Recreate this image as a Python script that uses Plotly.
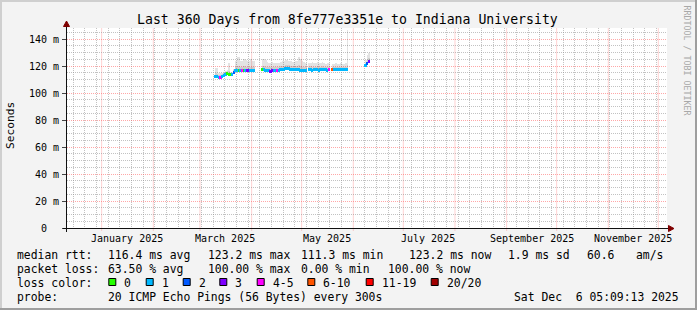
import plotly.graph_objects as go
import pandas as pd

# ---------------- data ----------------
START = "2024-12-11 05:09:13"
END = "2025-12-06 05:09:13"
days = pd.date_range("2025-03-10", "2025-06-10", freq="D")

N = None
# median RTT (ms), one value per day
median_rtt = (
    [112.5, 112, 111.5, 111.5, 112, 113, 114, 114.5, 114, 113.5, 113.5, 115.5,
     117, 117, 117, 117, 117, 117, 116.5, 116.5, 117, 117, 117, 117]
    + [N] * 4
    + [117.5, 117.5, 117, 117, 116.5, 116, 116.5, 117, 117, 117, 117, 117.5, 117.5,
       117.5, 118, 118.5, 118, 117.5, 117.5, 117.5, 117.5, 117.5, 117.5, 117, 117, 117, 116.5]
    + [N]
    + [117.5, 117.5, 117, 117.5, 117.5, 117.5, 117, 117.5, 117.5, 117.5, 117.5, 117, 117.5]
    + [N]
    + [117.5, 117.5, 117.5, 117.5, 117.5, 117.5, 117.5, 117.5, 117.5, 117.5]
    + [N] * 10
    + [120.5, 122, 123.5]
)
# loss class index (0 -> "0", 1 -> "1", ... 4 -> "4-5", 5 -> "6-10", 6 -> "11-19", 7 -> "20/20")
loss_class = (
    [1, 1, 1, 4, 1, 1, 1, 0, 0, 0, 1, 2, 1, 1, 0, 1, 4, 0, 1, 3, 3, 1, 1, 1]
    + [N] * 4
    + [0, 1, 1, 1, 1, 3, 3, 1, 1, 4, 1, 1, 1, 1, 1, 1, 1, 1, 1, 1, 1, 1, 1, 1, 1, 1, 1]
    + [N]
    + [1, 1, 1, 1, 1, 1, 1, 1, 1, 1, 1, 1, 4]
    + [N]
    + [5, 1, 1, 1, 1, 1, 1, 1, 1, 1]
    + [N] * 10
    + [1, 2, 3]
)
# upper quartile of the ping spread (ms)
rtt_p75 = (
    [114.5, 114, 113.5, 113.5, 114, 114.5, 115.5, 117, 116, 115, 115, 117,
     119.5, 120, 120, 119.5, 119.5, 120, 119.5, 119.5, 119.5, 119.5, 119.5, 119.5]
    + [N] * 4
    + [120, 120, 119.5, 119.5, 119, 119, 119, 119.5, 119.5, 119.5, 119.5, 120, 120,
       120, 120.5, 121, 120.5, 120, 120, 120, 120, 120, 120.5, 120, 119.5, 119.5, 119]
    + [N]
    + [119.5, 120, 119.5, 119.5, 119.5, 120, 119.5, 119.5, 120, 119.5, 119.5, 119.5, 119.5]
    + [N]
    + [119.5, 119.5, 119.5, 119.5, 119.5, 119.5, 119.5, 119.5, 119.5, 121]
    + [N] * 10
    + [122, 124.5, 126]
)
# max ping (ms)
rtt_max = (
    [118.5, 118.5, 115, 115, 115, 115, 116, 116, 122.5, 115.5, 115.5, 118,
     124, 127, 126.5, 124, 124, 125, 124.5, 124, 124, 125, 124, 124]
    + [N] * 4
    + [125.5, 125, 124.5, 123, 122.5, 122.5, 123, 122.5, 122.5, 122.5, 122.5, 123, 123.5,
       124, 124.5, 124.5, 124, 123.5, 123, 123, 123.5, 124, 127, 125, 123.5, 123, 122.5]
    + [N]
    + [122, 122.5, 123, 122.5, 122, 123, 122, 122.5, 123, 122, 121.5, 122.5, 122]
    + [N]
    + [121.5, 121.5, 122, 121.5, 121.5, 122, 121.5, 121.5, 122, 147]
    + [N] * 10
    + [124.5, 128.5, 130]
)

loss_labels = ["0", "1", "2", "3", "4-5", "6-10", "11-19", "20/20"]
loss_colors = ["#26ff00", "#00b8ff", "#0059ff", "#7e00ff", "#ff00ff", "#ff5500", "#ff0000", "#a10000"]

month_ticks = [d.strftime("%Y-%m-%d") for d in pd.date_range("2025-01-01", "2025-12-01", freq="MS")]
week_ticks = [d.strftime("%Y-%m-%d") for d in pd.date_range("2024-12-15", "2025-12-06", freq="W-SUN")
              if d.strftime("%Y-%m-%d") not in month_ticks]
label_ticks = ["2025-01-16", "2025-03-16", "2025-05-16", "2025-07-16", "2025-09-16", "2025-11-16"]
label_text = ["January 2025", "March 2025", "May 2025", "July 2025", "September 2025", "November 2025"]
y_ticks = [0, 20, 40, 60, 80, 100, 120, 140]
y_minor = [v for v in range(5, 150, 5) if v % 20 != 0]
y_text = ["0\u00a0\u00a0"] + [f"{v} m" for v in y_ticks[1:]]

# ---------------- figure ----------------
W, H = 697, 310
L, R, T, B = 67, 30, 28, 82
PW, PH = W - L - R, H - T - B


def X(px):
    return (px - L) / PW


def Y(py):
    return (H - B - py) / PH


MONO = "DejaVu Sans Mono"
DAY_MS = 86400000

smoke_base, smoke_outer_h, smoke_inner_h, med_base, med_h, med_col = [], [], [], [], [], []
for m, mx, p, c in zip(median_rtt, rtt_max, rtt_p75, loss_class):
    if m is None:
        smoke_base.append(None); smoke_outer_h.append(None); smoke_inner_h.append(None)
        med_base.append(None); med_h.append(None); med_col.append("rgba(0,0,0,0)")
    else:
        smoke_base.append(m)
        smoke_outer_h.append(mx - m)
        smoke_inner_h.append(p - m)
        med_base.append(m - 1.1)
        med_h.append(2.2)
        med_col.append(loss_colors[c])

fig = go.Figure()
fig.add_trace(go.Bar(x=days, y=smoke_outer_h, base=smoke_base, width=DAY_MS, offset=0,
                     marker=dict(color="rgba(0,0,0,0.11)", line=dict(width=0)),
                     hoverinfo="skip", showlegend=False))
fig.add_trace(go.Bar(x=days, y=smoke_inner_h, base=smoke_base, width=DAY_MS, offset=0,
                     marker=dict(color="rgba(0,0,0,0.09)", line=dict(width=0)),
                     hoverinfo="skip", showlegend=False))
fig.add_trace(go.Bar(x=days, y=med_h, base=med_base, width=DAY_MS, offset=0,
                     marker=dict(color=med_col, line=dict(width=0)),
                     hoverinfo="skip", showlegend=False))

GRID = "rgba(143,143,143,0.55)"
MGRID = "rgba(255,95,95,0.55)"
DOT = "1px,1px"

fig.update_layout(
    width=W, height=H,
    margin=dict(l=L, r=R, t=T, b=B, pad=0),
    paper_bgcolor="#F3F3F3", plot_bgcolor="#FFFFFF",
    barmode="overlay", bargap=0, showlegend=False,
    font=dict(family=MONO, size=10, color="#000"),
    # weekly minor grid
    xaxis=dict(type="date", range=[START, END], tickmode="array", tickvals=week_ticks,
               showticklabels=False, showgrid=True, gridcolor=GRID, griddash=DOT, gridwidth=1,
               ticks="", showline=False, zeroline=False),
    yaxis=dict(range=[0, PH / 1.35], tickmode="array", tickvals=y_ticks, ticktext=y_text,
               showgrid=True, gridcolor=MGRID, griddash=DOT, gridwidth=1,
               ticks="outside", ticklen=4, tickcolor="#444", showline=False, zeroline=False,
               tickfont=dict(family=MONO, size=10, color="#000"), ticklabelstandoff=1,
               minor=dict(tickmode="array", tickvals=y_minor, showgrid=True, gridcolor=GRID,
                          griddash=DOT, gridwidth=1, ticks="")),
)

shapes = []
# monthly major grid lines (on the x scale) with small tick below the axis
for mt in month_ticks:
    shapes.append(dict(type="line", xref="x", yref="paper", x0=mt, x1=mt, y0=Y(230.5), y1=1,
                       line=dict(color=MGRID, width=1, dash=DOT), layer="below"))
# frame shading
shapes.append(dict(type="rect", xref="paper", yref="paper", x0=X(0), x1=X(W), y0=Y(0), y1=Y(2),
                   fillcolor="#CFCFCF", line=dict(width=0), layer="below"))
shapes.append(dict(type="rect", xref="paper", yref="paper", x0=X(0), x1=X(2), y0=Y(0), y1=Y(H),
                   fillcolor="#CFCFCF", line=dict(width=0), layer="below"))
shapes.append(dict(type="rect", xref="paper", yref="paper", x0=X(0), x1=X(W), y0=Y(H - 2), y1=Y(H),
                   fillcolor="#9E9E9E", line=dict(width=0), layer="below"))
shapes.append(dict(type="rect", xref="paper", yref="paper", x0=X(W - 2), x1=X(W), y0=Y(0), y1=Y(H),
                   fillcolor="#9E9E9E", line=dict(width=0), layer="below"))
# axes with arrows
shapes.append(dict(type="line", xref="paper", yref="paper", x0=X(66.5), x1=X(66.5), y0=Y(232), y1=Y(24),
                   line=dict(color="#101010", width=1)))
shapes.append(dict(type="line", xref="paper", yref="paper", x0=X(63), x1=X(670), y0=Y(228.5), y1=Y(228.5),
                   line=dict(color="#101010", width=1)))
shapes.append(dict(type="path", xref="paper", yref="paper",
                   path=f"M {X(66.5)},{Y(21)} L {X(63.5)},{Y(26.5)} L {X(69.5)},{Y(26.5)} Z",
                   fillcolor="#7F0000", line=dict(color="#7F0000", width=1)))
shapes.append(dict(type="path", xref="paper", yref="paper",
                   path=f"M {X(674)},{Y(228.5)} L {X(668.5)},{Y(225.5)} L {X(668.5)},{Y(231.5)} Z",
                   fillcolor="#7F0000", line=dict(color="#7F0000", width=1)))

annotations = []


def txt(px, py, s, size=11.4, anchor="left", color="#000", angle=0):
    annotations.append(dict(xref="paper", yref="paper", x=X(px), y=Y(py), text=s, showarrow=False,
                            xanchor=anchor, yanchor="middle", borderpad=0, textangle=angle,
                            font=dict(family=MONO, size=size, color=color)))


# month labels, centred half a month after their grid line
for lt, lab in zip(label_ticks, label_text):
    annotations.append(dict(xref="x", yref="paper", x=lt, y=Y(238), text=lab, showarrow=False,
                            xanchor="center", yanchor="middle", borderpad=0,
                            font=dict(family=MONO, size=10, color="#000")))

txt(347.5, 19, "Last 360 Days from 8fe777e3351e to Indiana University", size=13.2, anchor="center")
txt(10, 126, "Seconds", size=11.2, anchor="center", angle=-90)
txt(686.5, 60, "RRDTOOL / TOBI OETIKER", size=8.3, anchor="center", color="#A8A8A8", angle=90)

r1, r2, r3, r4 = 254.5, 268.5, 282.5, 296.5
txt(16, r1, "median rtt:")
txt(107.3, r1, "116.4 ms avg")
txt(207.3, r1, "123.2 ms max")
txt(300, r1, "111.3 ms min")
txt(408.3, r1, "123.2 ms now")
txt(506.7, r1, "1.9 ms sd")
txt(585.7, r1, "60.6")
txt(635, r1, "am/s")

txt(16, r2, "packet loss:")
txt(107.3, r2, "63.50 % avg")
txt(207.3, r2, "100.00 % max")
txt(300, r2, "0.00 % min")
txt(386.7, r2, "100.00 % now")

txt(16, r3, "loss color:")
box_x = [108.3, 145.7, 182.7, 219.3, 256.7, 307.3, 365.7, 430.7]
for bx, lab, col in zip(box_x, loss_labels, loss_colors):
    shapes.append(dict(type="rect", xref="paper", yref="paper", x0=X(bx + 0.5), x1=X(bx + 7.5),
                       y0=Y(278.5), y1=Y(285.5), fillcolor=col, line=dict(color="#000", width=1)))
    txt(bx + 15, r3, lab)

txt(16, r4, "probe:")
txt(107.3, r4, "20 ICMP Echo Pings (56 Bytes) every 300s")
txt(513.3, r4, "Sat Dec\u00a0\u00a06 05:09:13 2025")

fig.update_layout(shapes=shapes, annotations=annotations)
fig.write_html("out.html")
